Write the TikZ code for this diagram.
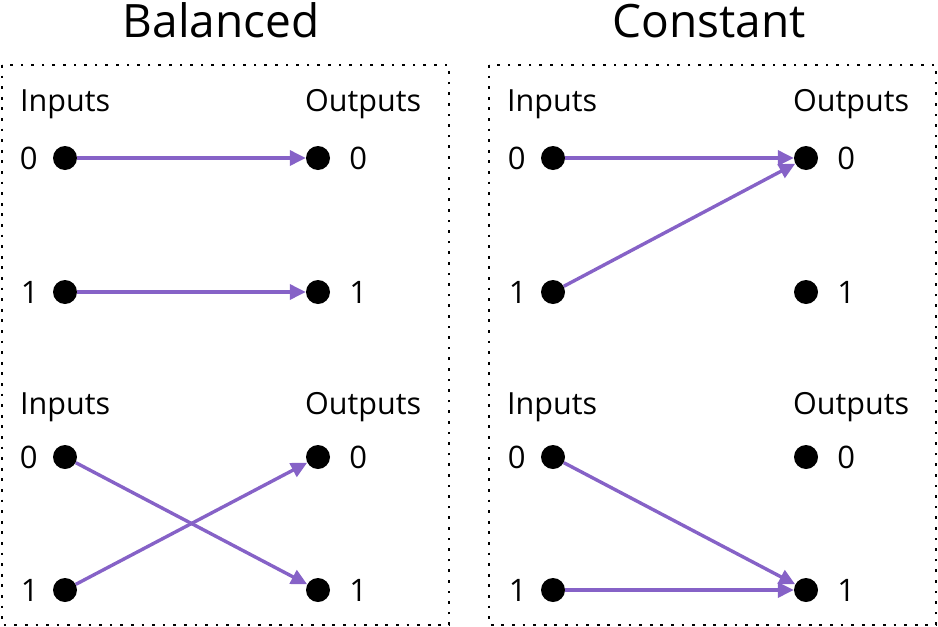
\documentclass[tikz,border=0pt]{standalone}
\usepackage{fontspec}
\setmainfont{Open Sans}
\definecolor{qpurple}{HTML}{8662C7}
\usetikzlibrary{arrows.meta,positioning}

\begin{document}
\begin{tikzpicture}[x=1pt,y=-1pt,
  bit/.style={circle,fill=black,inner sep=0pt,minimum size=24pt},
  num/.style={inner sep=0pt,font=\fontsize{31}{34}\selectfont},
  head/.style={inner sep=0pt,anchor=base west,font=\fontsize{30.5}{34}\selectfont},
  ttl/.style={inner sep=0pt,anchor=base,font=\fontsize{46}{50}\selectfont},
  frame/.style={line width=2.7pt,dash pattern=on 2.7pt off 7.9pt},
  arr/.style={-{Triangle[length=16pt,width=15pt]},qpurple,line width=3.4pt}]
\useasboundingbox (0,0) rectangle (938,627);
\node[ttl] (tb) at (221,37) {Balanced};
\node[ttl] (tc) at (709,37) {Constant};
\draw[frame] (2,65) rectangle (449,625);
\draw[frame] (489,65) rectangle (936,625);
% balanced, top
\node[head] (bi1) at (20,111) {Inputs};
\node[head] (bo1) at (305,111) {Outputs};
\node[bit] (ba0) at (65,158) {};
\node[bit] (ba1) at (65,292) {};
\node[bit] (bb0) at (318,158) {};
\node[bit] (bb1) at (318,292) {};
\node[num,left=15pt of ba0] (nba0) {0};
\node[num,left=14pt of ba1] (nba1) {1};
\node[num,right=19pt of bb0] (nbb0) {0};
\node[num,right=19pt of bb1] (nbb1) {1};
\draw[arr] (ba0) -- (bb0);
\draw[arr] (ba1) -- (bb1);
% balanced, bottom
\node[head] (bi2) at (20,414) {Inputs};
\node[head] (bo2) at (305,414) {Outputs};
\node[bit] (bc0) at (65,457) {};
\node[bit] (bc1) at (65,590) {};
\node[bit] (bd0) at (318,457) {};
\node[bit] (bd1) at (318,590) {};
\node[num,left=15pt of bc0] (nbc0) {0};
\node[num,left=14pt of bc1] (nbc1) {1};
\node[num,right=19pt of bd0] (nbd0) {0};
\node[num,right=19pt of bd1] (nbd1) {1};
\draw[arr] (bc0) -- (bd1);
\draw[arr] (bc1) -- (bd0);
% constant, top
\node[head] (ci1) at (507,111) {Inputs};
\node[head] (co1) at (793,111) {Outputs};
\node[bit] (ca0) at (553,158) {};
\node[bit] (ca1) at (553,292) {};
\node[bit] (cb0) at (806,158) {};
\node[bit] (cb1) at (806,292) {};
\node[num,left=15pt of ca0] (nca0) {0};
\node[num,left=14pt of ca1] (nca1) {1};
\node[num,right=19pt of cb0] (ncb0) {0};
\node[num,right=19pt of cb1] (ncb1) {1};
\draw[arr] (ca0) -- (cb0);
\draw[arr] (ca1) -- (cb0);
% constant, bottom
\node[head] (ci2) at (507,414) {Inputs};
\node[head] (co2) at (793,414) {Outputs};
\node[bit] (cc0) at (553,457) {};
\node[bit] (cc1) at (553,590) {};
\node[bit] (cd0) at (806,457) {};
\node[bit] (cd1) at (806,590) {};
\node[num,left=15pt of cc0] (ncc0) {0};
\node[num,left=14pt of cc1] (ncc1) {1};
\node[num,right=19pt of cd0] (ncd0) {0};
\node[num,right=19pt of cd1] (ncd1) {1};
\draw[arr] (cc0) -- (cd1);
\draw[arr] (cc1) -- (cd1);
\end{tikzpicture}
\end{document}
